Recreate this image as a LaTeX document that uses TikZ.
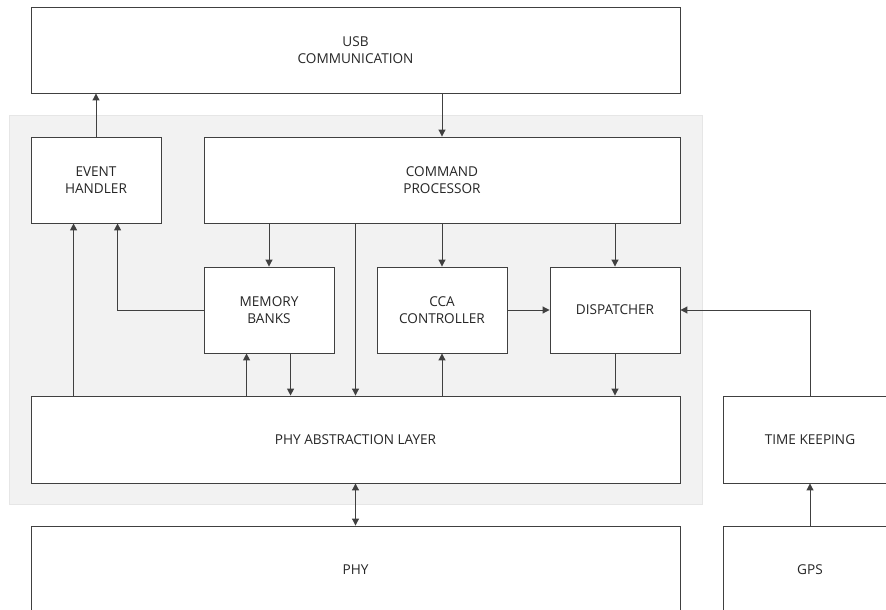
\documentclass[tikz,border=0pt]{standalone}
\usepackage{fontspec}
\setmainfont{Open Sans}
\usetikzlibrary{arrows.meta,calc}
\definecolor{ln}{HTML}{404040}
\definecolor{tx}{HTML}{262626}
\definecolor{bg}{HTML}{F2F2F2}
\definecolor{bgl}{HTML}{E6E6E6}
\begin{document}
\begin{tikzpicture}[x=1pt,y=-1pt,
  blk/.style={draw=ln, line width=0.9pt, fill=white, text=tx, align=center,
    font=\fontsize{13.6}{17.7}\selectfont, inner sep=0pt},
  arr/.style={draw=ln, line width=1pt, -{Triangle[length=7pt,width=7pt]}},
  darr/.style={draw=ln, line width=1pt, {Triangle[length=7pt,width=7pt]}-{Triangle[length=7pt,width=7pt]}}]
\useasboundingbox (0,0) rectangle (886,610);
\clip (0,0) rectangle (886,610);
\fill[fill=bg, draw=bgl, line width=0.8pt] (9,115) rectangle (702,504);
\node[blk, minimum width=649pt, minimum height=86pt] (USB) at (355.5,50) {USB\\COMMUNICATION};
\node[blk, minimum width=130pt, minimum height=86pt] (EH) at (96,180) {EVENT\\HANDLER};
\node[blk, minimum width=476pt, minimum height=86pt] (CP) at (442,180) {COMMAND\\PROCESSOR};
\node[blk, minimum width=130pt, minimum height=86pt] (MB) at (269,310) {MEMORY\\BANKS};
\node[blk, minimum width=130pt, minimum height=86pt] (CCA) at (442,310) {CCA\\CONTROLLER};
\node[blk, minimum width=130pt, minimum height=86pt] (DI) at (615,310) {DISPATCHER};
\node[blk, minimum width=649pt, minimum height=87pt] (PAL) at (355.5,439.5) {PHY ABSTRACTION LAYER};
\node[blk, minimum width=649pt, minimum height=88pt] (PHY) at (355.5,570) {PHY};
\node[blk, minimum width=174pt, minimum height=87pt] (TK) at (810,439.5) {TIME KEEPING};
\node[blk, minimum width=174pt, minimum height=88pt] (GPS) at (810,570) {GPS};
\coordinate (e1) at ([xshift=43pt]EH.south west);
\coordinate (e2) at ([xshift=87pt]EH.south west);
\coordinate (m1) at ([xshift=43pt]MB.south west);
\coordinate (m2) at ([xshift=87pt]MB.south west);
\draw[arr] (EH.north) -- (USB.south -| EH.north);
\draw[arr] (USB.south -| CP.north) -- (CP.north);
\draw[arr] (CP.south -| MB.north) -- (MB.north);
\draw[arr] (CP.south -| PAL.north) -- (PAL.north);
\draw[arr] (CP.south -| CCA.north) -- (CCA.north);
\draw[arr] (CP.south -| DI.north) -- (DI.north);
\draw[arr] (CCA.east) -- (DI.west);
\draw[arr] (TK.north) |- (DI.east);
\draw[arr] (GPS.north) -- (TK.south);
\draw[arr] (e1 |- PAL.north) -- (e1);
\draw[arr] (MB.west) -| (e2);
\draw[arr] (m1 |- PAL.north) -- (m1);
\draw[arr] (m2) -- (m2 |- PAL.north);
\draw[arr] (PAL.north -| CCA.south) -- (CCA.south);
\draw[arr] (DI.south) -- (DI.south |- PAL.north);
\draw[darr] (PAL.south) -- (PHY.north);
\end{tikzpicture}
\end{document}
